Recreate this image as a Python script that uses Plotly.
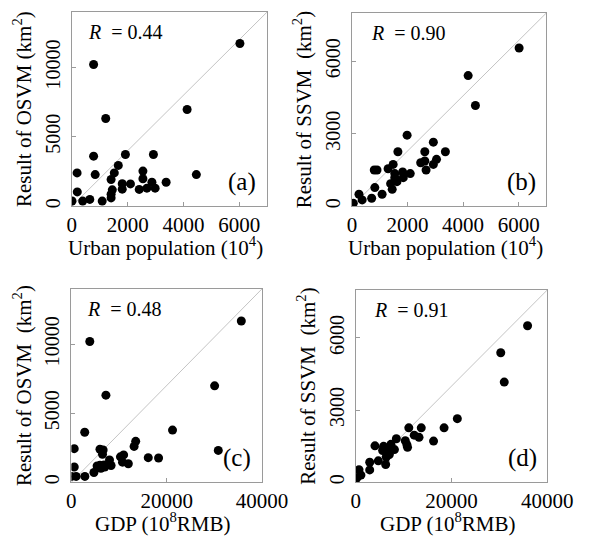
import plotly.graph_objects as go

# ---- data ----
urban_a = [6023, 780, 1214, 4131, 780, 1920, 2923, 1665, 1521, 188, 837, 2547, 2547, 4462, 1407,
           1806, 1806, 2100, 2870, 3379, 2415, 2690, 2985, 1450, 1407, 1407, 195, 6, 388, 644, 1088]
osvm_a = [11730, 10216, 6322, 6971, 3610, 3730, 3730, 2940, 2400, 2400, 2280, 2530, 1980, 2280, 1930,
          1620, 1230, 1610, 1725, 1725, 1210, 1300, 1300, 1180, 865, 600, 1030, 380, 370, 490, 370]

urban_b = [6017, 4182, 4444, 1983, 2929, 1652, 2621, 3362, 800, 900, 1299, 1481, 2473, 2621, 3043,
           2929, 2667, 2097, 1823, 1539, 1539, 1846, 1618, 1390, 1447, 821, 1083, 707, 250, 365, 45]
ssvm_b = [6550, 5408, 4170, 2942, 2653, 2255, 2255, 2255, 1500, 1500, 1553, 1732, 1800, 1870, 1940,
          1732, 1500, 1350, 1417, 1350, 1183, 1183, 1018, 935, 700, 770, 495, 330, 495, 260, 124]

gdp_c = [35667, 3867, 7250, 30067, 2800, 21233, 30833, 600, 13500, 13167, 6000, 6667, 6533, 600, 16133,
         18300, 10967, 10300, 8000, 8333, 10733, 11950, 6867, 6000, 5400, 6200, 4733, 2833, 0, 1000, 7000]
osvm_c = [11680, 10190, 6305, 6978, 3620, 3775, 2302, 2430, 2960, 2590, 2385, 2330, 2025, 1102, 1775,
          1750, 1975, 1835, 1615, 1210, 1450, 1340, 1247, 1223, 1175, 1007, 700, 420, 420, 420, 1100]

gdp_d = [35867, 30267, 31000, 21200, 18433, 13667, 11067, 16233, 12200, 13200, 10333, 8467, 10800, 10667, 4000,
         7333, 5800, 5600, 8067, 6900, 6367, 4700, 6233, 2900, 2900, 667, 1067, 0, 6500, 7000, 300]
ssvm_d = [6507, 5384, 4164, 2643, 2260, 2260, 2260, 1711, 1958, 1865, 1725, 1807, 1450, 1562, 1513,
          1575, 1493, 1320, 1355, 1240, 1048, 889, 738, 828, 512, 520, 295, 120, 1400, 1150, 200]

r_labels = ["0.44", "0.90", "0.48", "0.91"]
panel_labels = ["(a)", "(b)", "(c)", "(d)"]
x_titles = ["Urban population (10<sup>4</sup>)", "Urban population (10<sup>4</sup>)",
            "GDP (10<sup>8</sup>RMB)", "GDP (10<sup>8</sup>RMB)"]
y_titles = ["Result of OSVM (km<sup>2</sup>)", "Result of SSVM\u00a0 (km<sup>2</sup>)",
            "Result of OSVM\u00a0 (km<sup>2</sup>)", "Result of SSVM\u00a0 (km<sup>2</sup>)"]
x_ranges = [[0, 7000], [0, 7000], [0, 40000], [0, 40000]]
y_ranges = [[0, 14000], [0, 8000], [0, 14000], [0, 8000]]
x_ticks = [[0, 2000, 4000, 6000], [0, 2000, 4000, 6000], [0, 20000, 40000], [0, 20000, 40000]]
y_ticks = [[0, 5000, 10000], [0, 3000, 6000], [0, 5000, 10000], [0, 3000, 6000]]

series = [(urban_a, osvm_a), (urban_b, ssvm_b), (gdp_c, osvm_c), (gdp_d, ssvm_d)]

W, H = 598, 536
# plot boxes in pixels: (left, right, top, bottom)
boxes = [(70.5, 276.5, 12, 207), (366, 571, 13, 207), (70, 271, 290, 484), (370, 572, 291, 484)]
r_x = [0.07, 0.085, 0.07, 0.085]

FONT = "Liberation Serif, Times New Roman, serif"
fig = go.Figure()
layout = dict(width=W, height=H, margin=dict(l=0, r=0, t=0, b=0),
              paper_bgcolor="white", plot_bgcolor="white", showlegend=False,
              font=dict(family=FONT, size=20, color="black"))
shapes, annos = [], []
for i, ((xs, ys), (l, r, t, b)) in enumerate(zip(series, boxes)):
    n = "" if i == 0 else str(i + 1)
    xa, ya = "x" + n, "y" + n
    fig.add_trace(go.Scatter(x=xs, y=ys, mode="markers", xaxis=xa, yaxis=ya,
                             marker=dict(color="black", size=9)))
    common = dict(showline=True, mirror=True, linecolor="#9a9a9a", linewidth=1,
                  ticks="inside", ticklen=4, tickcolor="#9a9a9a", showgrid=False, zeroline=False)
    layout["xaxis" + n] = dict(common, domain=[l / W, r / W], anchor=ya, range=x_ranges[i],
                               tickvals=x_ticks[i], ticktext=[str(v) for v in x_ticks[i]],
                               tickfont=dict(family=FONT, size=21))
    layout["yaxis" + n] = dict(common, domain=[1 - b / H, 1 - t / H], anchor=xa, range=y_ranges[i],
                               tickvals=y_ticks[i], ticktext=[str(v) for v in y_ticks[i]], tickangle=-90,
                               tickfont=dict(family=FONT, size=20), ticklabelstandoff=3,
                               title=dict(text=y_titles[i], font=dict(family=FONT, size=21), standoff=4))
    shapes.append(dict(type="line", xref=xa + " domain", yref=ya + " domain", x0=0, y0=0, x1=1, y1=1,
                       line=dict(color="#c4c4c4", width=1), layer="below"))
    # x-axis title
    annos.append(dict(xref=xa + " domain", yref=ya + " domain", x=0.48, y=-25.0 / (b - t),
                      xanchor="center", yanchor="top", showarrow=False,
                      text=x_titles[i], font=dict(family=FONT, size=21)))
    annos.append(dict(xref=xa + " domain", yref=ya + " domain", x=r_x[i], y=0.895,
                      xanchor="left", yanchor="middle", showarrow=False,
                      text="<i>R</i>\u00a0 = " + r_labels[i], font=dict(family=FONT, size=20)))
    annos.append(dict(xref=xa + " domain", yref=ya + " domain", x=0.955, y=0.125,
                      xanchor="right", yanchor="middle", showarrow=False,
                      text=panel_labels[i], font=dict(family=FONT, size=25)))
layout["shapes"] = shapes
layout["annotations"] = annos
fig.update_layout(**layout)
fig.write_html("out.html")
